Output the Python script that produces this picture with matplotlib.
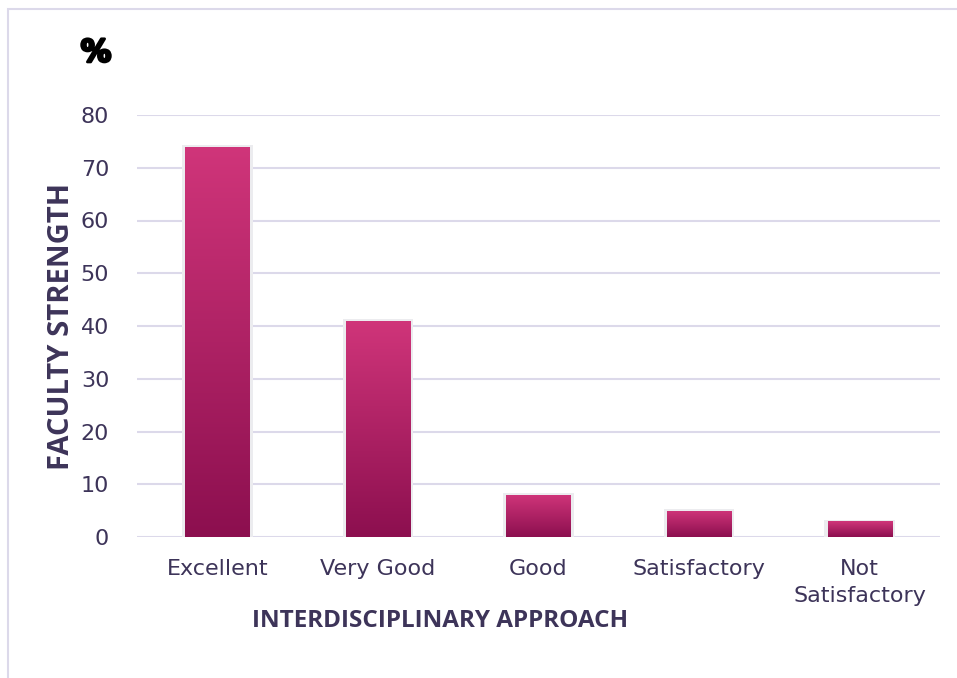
import matplotlib.pyplot as plt
import matplotlib.patches as mpatches
import matplotlib.patheffects as pe
from matplotlib.colors import LinearSegmentedColormap
import numpy as np

# data
categories = ["Excellent", "Very Good", "Good", "Satisfactory", "Not\nSatisfactory"]
values = [74, 41, 8, 5, 3]
yticks = [0, 10, 20, 30, 40, 50, 60, 70, 80]

text_color = "#3d3459"
grid_color = "#dcd9ea"

fig = plt.figure(figsize=(9.57, 6.78), dpi=100)
fig.patches.append(mpatches.Rectangle((8 / 957, -0.1), 1.2, (678 - 9) / 678 + 0.1,
                                      transform=fig.transFigure, fill=False,
                                      edgecolor="#dcd9ea", linewidth=1.5))

ax = fig.add_axes([137 / 957, (678 - 537) / 678, (940 - 137) / 957, (537 - 115) / 678])
x = np.arange(len(categories))

# gradient image used as fill for every bar
grad = np.linspace(0, 1, 256).reshape(-1, 1)
cmap = LinearSegmentedColormap.from_list("bar", ["#8c0f4f", "#d0357a"])

bars = ax.bar(x, values, width=0.4, color="none", edgecolor="none", zorder=3)
for b, v in zip(bars, values):
    # faint shadow behind the bar
    sh = mpatches.Rectangle((b.get_x() - 0.02, 0), b.get_width() + 0.04, v + 0.3,
                            facecolor="#ececef", edgecolor="none", zorder=2)
    ax.add_patch(sh)
    im = ax.imshow(grad, cmap=cmap, aspect="auto", origin="lower",
                   extent=(b.get_x(), b.get_x() + b.get_width(), 0, v), zorder=3)
    im.set_clip_path(b)

ax.set_xlim(-0.5, len(categories) - 0.5)
ax.set_ylim(0, 80)
ax.set_yticks(yticks)
ax.set_xticks(x)
ax.set_xticklabels(categories, linespacing=1.45)
ax.yaxis.grid(True, color=grid_color, linewidth=1.5, zorder=0)
ax.set_axisbelow(True)
for s in ax.spines.values():
    s.set_visible(False)
ax.tick_params(length=0, labelsize=16, labelcolor=text_color)
ax.tick_params(axis="y", pad=20)
ax.tick_params(axis="x", pad=16)

fig.text(62 / 957, 1 - 326 / 678, "FACULTY STRENGTH", rotation=90, ha="center", va="center",
         fontsize=21, fontweight="bold", color=text_color, family="Open Sans")
fig.text(440 / 957, 1 - 621 / 678, "INTERDISCIPLINARY APPROACH", ha="center", va="center",
         fontsize=17.5, fontweight="bold", color=text_color, family="Open Sans")
fig.text(96 / 957, 1 - 53 / 678, "%", ha="center", va="center",
         fontsize=22, fontweight="bold", color="black",
         path_effects=[pe.withStroke(linewidth=2, foreground="black")])

fig.savefig("out.png", dpi=100)
